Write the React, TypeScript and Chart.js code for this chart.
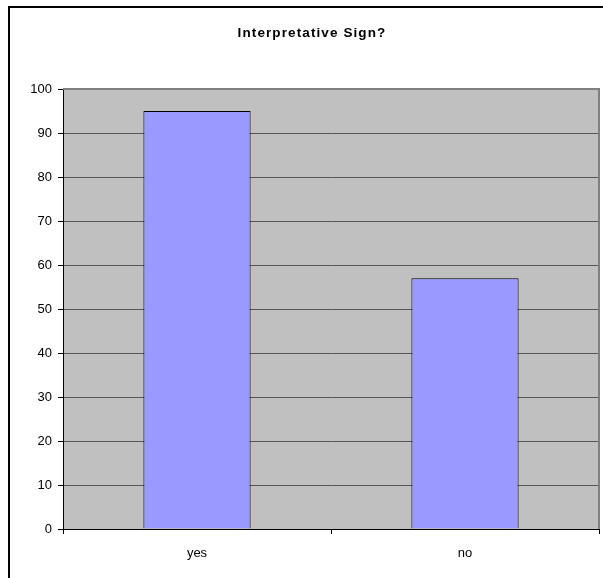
import React, { useEffect, useRef } from "react";
import { Chart, registerables } from "chart.js";

Chart.register(...registerables);

const categories = ["yes", "no"];
const values = [95, 57];
const yTicks = [0, 10, 20, 30, 40, 50, 60, 70, 80, 90, 100];
const titleText = "Interpretative Sign?";

const FONT = "'Liberation Sans', Arial, sans-serif";

const decorPlugin = {
  id: "decor",
  beforeDraw(chart: any) {
    const { ctx, chartArea } = chart;
    ctx.save();
    ctx.fillStyle = "#ffffff";
    ctx.fillRect(0, 0, chart.width, chart.height);
    ctx.fillStyle = "#c0c0c0";
    ctx.fillRect(chartArea.left, chartArea.top, chartArea.right - chartArea.left, chartArea.bottom - chartArea.top);
    // outer border
    ctx.strokeStyle = "#000000";
    ctx.lineWidth = 2;
    ctx.strokeRect(9, 7, chart.width + 10, chart.height + 10);
    // title
    ctx.fillStyle = "#000000";
    ctx.font = "bold 13.5px " + FONT;
    try {
      (ctx as any).letterSpacing = "1.1px";
    } catch (e) {}
    ctx.textAlign = "center";
    ctx.textBaseline = "middle";
    ctx.fillText(titleText, 312, 33);
    ctx.restore();
  },
  afterDatasetsDraw(chart: any) {
    const { ctx, chartArea } = chart;
    ctx.save();
    ctx.strokeStyle = "#808080";
    ctx.lineWidth = 2;
    ctx.beginPath();
    ctx.moveTo(chartArea.left, chartArea.top);
    ctx.lineTo(chartArea.right, chartArea.top);
    ctx.lineTo(chartArea.right, chartArea.bottom);
    ctx.stroke();
    ctx.restore();
  },
};

export default function App() {
  const ref = useRef<HTMLCanvasElement | null>(null);
  useEffect(() => {
    document.body.style.margin = "0";
    if (!ref.current) return;
    const chart = new Chart(ref.current, {
      type: "bar",
      data: {
        labels: categories,
        datasets: [
          {
            data: values,
            backgroundColor: "#9999ff",
            borderColor: "#000000",
            borderWidth: 1,
            barPercentage: 0.4,
            categoryPercentage: 1,
          },
        ],
      },
      options: {
        animation: false,
        responsive: false,
        maintainAspectRatio: false,
        layout: { padding: { top: 89, left: 0, right: 4, bottom: 0 } },
        plugins: { legend: { display: false }, title: { display: false }, tooltip: { enabled: false } },
        scales: {
          x: {
            offset: true,
            grid: {
              display: true,
              offset: true,
              drawOnChartArea: false,
              drawTicks: true,
              tickLength: 5,
              tickColor: "#000000",
              color: "#000000",
            },
            border: { display: true, color: "#000000", width: 1 },
            ticks: { color: "#000000", font: { family: FONT, size: 13 }, padding: 12 },
            afterFit: (s: any) => {
              s.height = 49;
            },
          },
          y: {
            min: 0,
            max: 100,
            afterBuildTicks: (s: any) => {
              s.ticks = yTicks.map((v) => ({ value: v }));
            },
            grid: {
              color: (c: any) => (c.tick && c.tick.value === 100 ? "rgba(0,0,0,0)" : "#555555"),
              tickColor: "#000000",
              tickLength: 5,
              lineWidth: 1,
            },
            border: { display: true, color: "#000000", width: 1 },
            ticks: { color: "#000000", font: { family: FONT, size: 13 }, padding: 6, stepSize: 10 },
            afterFit: (s: any) => {
              s.width = 63;
            },
          },
        },
      },
      plugins: [decorPlugin],
    });
    return () => chart.destroy();
  }, []);
  return (
    <div style={{ width: 603, height: 578 }}>
      <canvas ref={ref} width={603} height={578} style={{ display: "block", width: 603, height: 578 }} />
    </div>
  );
}
